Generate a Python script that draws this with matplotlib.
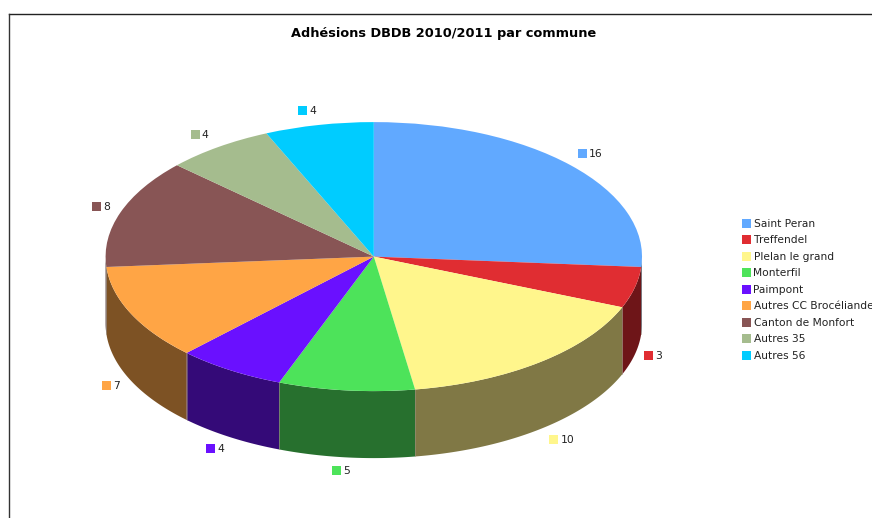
import numpy as np
import matplotlib
matplotlib.use("Agg")
import matplotlib.pyplot as plt
from matplotlib.lines import Line2D
from matplotlib.patches import Rectangle, Polygon
from matplotlib.transforms import Affine2D

title = "Adhésions DBDB 2010/2011 par commune"
communes = ["Saint Peran", "Treffendel", "Plelan le grand", "Monterfil", "Paimpont",
            "Autres CC Brocéliande", "Canton de Monfort", "Autres 35", "Autres 56"]
adhesions = [16, 3, 10, 5, 4, 7, 8, 4, 4]
top_colors = ["#61A9FF", "#E02D32", "#FFF68C", "#4DE35A", "#6A10FF",
              "#FFA545", "#885555", "#A5BC8E", "#00CCFF"]
side_colors = ["#30547F", "#6E1518", "#807845", "#27702E", "#340A78",
               "#7D5224", "#442A2A", "#525E47", "#00667F"]
label_offsets = [(12, -12), (14, 0), (14, 10), (-9, 12), (-18, 11),
                 (-23, 4), (-22, -6), (-22, -12), (-15, -14)]

W, H = 872, 518
CX, CY, RX, RY, DEPTH = 373.8, 256.6, 268.2, 134.5, 67

fig = plt.figure(figsize=(W / 100, H / 100), dpi=100, facecolor="white")
ax = fig.add_axes([0, 0, 1, 1])
ax.pie(adhesions, colors=top_colors, startangle=90, counterclock=False, radius=1,
       wedgeprops={"linewidth": 0, "zorder": 3})
ax.set_aspect("auto")
ax.set_xlim(-CX / RX, (W - CX) / RX)
ax.set_ylim((CY - H) / RY, CY / RY)
ax.set_axis_off()

px = Affine2D().scale(1, -1).translate(0, H)
depth = DEPTH / RY
total = sum(adhesions)
edges = np.cumsum([0] + adhesions) / total * 2 * np.pi

# Front wall of the disc: the part of each slice's rim on the lower half
for start, end, color in zip(edges[:-1], edges[1:], side_colors):
    a, b = max(start, np.pi / 2), min(end, 3 * np.pi / 2)
    if b <= a:
        continue
    t = np.linspace(a, b, 80)
    xs, ys = np.sin(t), np.cos(t)
    verts = np.r_[np.c_[xs, ys], np.c_[xs, ys - depth][::-1]]
    ax.add_patch(Polygon(verts, closed=True, facecolor=color, edgecolor="none", zorder=2))
    if b < 3 * np.pi / 2:
        ax.add_line(Line2D([xs[-1], xs[-1]], [ys[-1], ys[-1] - depth],
                           color="#9A8F80", lw=0.6, alpha=0.6, zorder=2.5))

# Value labels with swatches, offset from each slice's rim midpoint
for start, end, value, color, (dx, dy) in zip(edges[:-1], edges[1:], adhesions, top_colors, label_offsets):
    mid = (start + end) / 2
    x = 373 + 269 * np.sin(mid)
    y = 257 - 135 * np.cos(mid)
    if np.cos(mid) < 0:
        y += DEPTH
    mx, my = x + dx, y + dy
    fig.add_artist(Rectangle((mx - 4.5, my - 4.5), 9, 9, facecolor=color, edgecolor="none",
                             transform=px))
    fig.text(mx + 6.5, my + 0.5, str(value), transform=px, fontsize=7.75, color="#222222",
             va="center", ha="left")

# Legend
for i, (name, color) in enumerate(zip(communes, top_colors)):
    y = 223.5 + i * 16.45
    fig.add_artist(Rectangle((742, y - 4.5), 9, 9, facecolor=color, edgecolor="none", transform=px))
    fig.text(753.5, y + 0.5, name, transform=px, fontsize=7.7, color="#222222", va="center", ha="left")

fig.text(444, 34, title, transform=px, fontsize=9.3, fontweight="bold", color="black",
         ha="center", va="center")

# Frame lines at the top and left of the picture
fig.add_artist(Line2D([8.5, W], [13.5, 13.5], transform=px, color="#222222", lw=1.0))
fig.add_artist(Line2D([8.5, 8.5], [13.5, H], transform=px, color="#333333", lw=1.0))

fig.savefig("out.png", dpi=100, facecolor="white")
